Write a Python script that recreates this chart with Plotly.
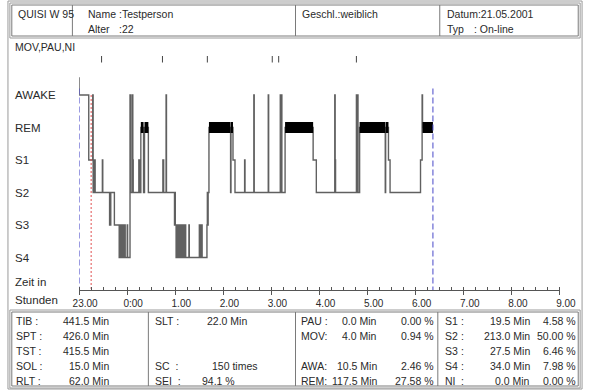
import plotly.graph_objects as go

W, H = 600, 391

# ---------------- data ----------------
stage_names = ["AWAKE", "REM", "S1", "S2", "S3", "S4"]
stage_level = {"MT": 5.55, "AWAKE": 5, "REM": 4, "S1": 3, "S2": 2, "S3": 1, "S4": 0}

# hypnogram transitions: minutes after 23:00 and the stage entered
hyp_min = [0, 0, 12, 17, 17.5, 19, 20, 29, 29.5, 38, 39.5, 44, 50, 51, 51.5, 52.5, 53, 54, 54.5,
           55.5, 56, 57, 57.5, 60, 60.5, 63.5, 64.5, 66.5, 67, 67.5, 74.5, 75.5, 77, 80.4, 81.6, 86.4,
           104.5, 105.5, 108.5, 109, 119, 119.5, 120, 121, 121.5, 122, 123, 123.5, 124.5, 125, 126,
           126.5, 127.5, 128, 129.5, 130, 131, 131.5, 132.5, 133, 137, 137.5, 150, 150.5, 151.5, 152,
           153, 153.5, 159.5, 160, 160.5, 161, 162, 189, 189.5, 192, 194.5, 206.5, 207, 218, 218.5,
           236, 236.5, 251, 251.5, 252.5, 253, 257, 292, 296, 319, 319.5, 320, 346, 346.5, 347.5, 348,
           350, 382, 382.5, 386, 388, 426, 428, 428.5]
hyp_stage = ["MT", "AWAKE", "S1", "AWAKE", "S2", "S1", "S2", "S1", "S2", "S3", "S2", "S3", "S4", "S3", "S4", "S3", "S4", "S3", "S4",
             "S3", "S4", "S3", "S4", "S3", "S4", "AWAKE", "S2", "AWAKE", "S1", "S2", "S1", "S2", "REM", "S2", "REM", "S2",
             "S1", "S2", "AWAKE", "S2", "S3", "S2", "S3", "S4", "S3", "S4", "S3", "S4", "S3", "S4", "S3",
             "S4", "S3", "S4", "S3", "S4", "S3", "S4", "S3", "S4", "S3", "S4", "S3", "S4", "S3", "S4",
             "S3", "S4", "S3", "S2", "S3", "S2", "REM", "S2", "REM", "S1", "S2", "S1", "S2", "AWAKE", "S2",
             "AWAKE", "S2", "AWAKE", "S2", "AWAKE", "S2", "REM", "S1", "S2", "AWAKE", "S1", "S2", "AWAKE", "S2", "AWAKE", "S2",
             "REM", "S2", "REM", "S1", "S2", "S1", "AWAKE", "REM"]
tib_min = 441.5          # lights off 23:00 -> lights on
sol_min = 15.0           # sleep onset latency

mov_min = [28, 104, 160, 241, 249, 346]   # MOV / PAU / NI markers

tick_min = [0, 60, 120, 180, 240, 300, 360, 420, 480, 540, 600]
tick_txt = ["23.00", "0:00", "1.00", "2.00", "3.00", "4.00", "5.00", "6.00", "7.00", "8.00", "9.00"]

header_cells = ["QUISI W 95", "Name", ":Testperson", "Alter", ":22", "Geschl.:weiblich",
                "Datum:21.05.2001", "Typ", ": On-line"]

col1_lbl = ["TIB :", "SPT :", "TST :", "SOL :", "RLT :"]
col1_val = ["441.5 Min", "426.0 Min", "415.5 Min", "15.0 Min", "62.0 Min"]
col2_lbl = ["SLT :", "", "", "SC  :", "SEI  :"]
col2_val = ["22.0 Min", "", "", "150 times", "94.1 %"]
col3_lbl = ["PAU :", "MOV:", "", "AWA:", "REM:"]
col3_val = ["0.0 Min", "4.0 Min", "", "10.5 Min", "117.5 Min"]
col3_pct = ["0.00 %", "0.94 %", "", "2.46 %", "27.58 %"]
col4_lbl = ["S1", "S2", "S3", "S4", "NI"]
col4_val = ["19.5 Min", "213.0 Min", "27.5 Min", "34.0 Min", "0.0 Min"]
col4_pct = ["4.58 %", "50.00 %", "6.46 %", "7.98 %", "0.00 %"]

# ---------------- helpers ----------------
def X(px):
    return px / W

def Y(py):
    return 1 - py / H

FONT = "Liberation Sans, Arial, sans-serif"
TXT = "#2a2a2a"
AX_L, AX_R = 75, 575
Y_BOT, Y_TOP = 290, 52.75   # pixel rows of y = -1 and y = 6.3

fig = go.Figure()

# hypnogram step line
xs = hyp_min + [tib_min]
ys = [stage_level[s] for s in hyp_stage] + [stage_level[hyp_stage[-1]]]
fig.add_trace(go.Scatter(x=xs, y=ys, mode="lines", line=dict(color="#606060", width=1.4, shape="hv"),
                         hoverinfo="skip", showlegend=False))

# REM bands
rx, ry = [], []
for i, s in enumerate(hyp_stage):
    if s == "REM":
        t0 = hyp_min[i]
        t1 = hyp_min[i + 1] if i + 1 < len(hyp_min) else tib_min
        rx += [t0, t1, None]
        ry += [stage_level["REM"], stage_level["REM"], None]
fig.add_trace(go.Scatter(x=rx, y=ry, mode="lines", line=dict(color="#000000", width=11),
                         hoverinfo="skip", showlegend=False))

# lights off / on dashed lines
fig.add_trace(go.Scatter(x=[0, 0, None, tib_min, tib_min], y=[5.2, -1, None, 5.2, -1], mode="lines",
                         line=dict(color="#4848c8", width=1, dash="6px,3px"), hoverinfo="skip", showlegend=False))
# sleep onset dotted line
fig.add_trace(go.Scatter(x=[sol_min, sol_min], y=[5, -1], mode="lines",
                         line=dict(color="#e05050", width=1, dash="2px,2px"), hoverinfo="skip", showlegend=False))

# MOV markers
mx, my = [], []
for t in mov_min:
    mx += [t, t, None]
    my += [6.0, 6.2, None]
fig.add_trace(go.Scatter(x=mx, y=my, mode="lines", line=dict(color="#444", width=1),
                         hoverinfo="skip", showlegend=False))

fig.update_xaxes(range=[0, 600], domain=[X(AX_L), X(AX_R)], showgrid=False, zeroline=False,
                 showline=True, linecolor="#555", linewidth=1,
                 tickvals=tick_min, ticktext=tick_txt, ticks="outside", ticklen=4, tickcolor="#555",
                 minor=dict(dtick=15, ticks="inside", ticklen=3, tickcolor="#555"),
                 tickfont=dict(family=FONT, size=10, color=TXT), ticklabelshift=6, fixedrange=True)
fig.update_yaxes(range=[-1, 6.3], domain=[Y(Y_BOT), Y(Y_TOP)], visible=False, fixedrange=True)

ann = []
def text(px, py, s, size=11, anchor="left"):
    ann.append(dict(x=X(px), y=Y(py), xref="paper", yref="paper", text=s, showarrow=False,
                    xanchor=anchor, yanchor="middle", font=dict(family=FONT, size=size, color=TXT)))

# stage labels
for name in stage_names:
    ann.append(dict(x=X(6), y=stage_level[name], xref="paper", yref="y", text=name, showarrow=False,
                    xanchor="left", yanchor="middle", font=dict(family=FONT, size=11.5, color=TXT)))
text(6, 282, "Zeit in", 11.5)
text(6, 300, "Stunden", 11.5)
text(6, 47, "MOV,PAU,NI", 10.5)

# header
text(9, 14, header_cells[0], 10.5)
text(82, 14, header_cells[1], 10.5)
text(114, 14, header_cells[2], 10.5)
text(82, 29, header_cells[3], 10.5)
text(114, 29, header_cells[4], 10.5)
text(305, 14, header_cells[5], 10.5)
text(455, 14, header_cells[6], 10.5)
text(455, 29, header_cells[7], 10.5)
text(484, 29, header_cells[8], 10.5)

# bottom table
rows = [321, 336, 351, 366, 381]
for i, py in enumerate(rows):
    text(7, py, col1_lbl[i], 10.5)
    text(108, py, col1_val[i], 10.5, "right")
    text(152, py, col2_lbl[i], 10.5)
    if col2_val[i]:
        a = "right" if "Min" in col2_val[i] or "times" in col2_val[i] else "left"
        text(252 if "Min" in col2_val[i] else (263 if "times" in col2_val[i] else 201), py, col2_val[i], 10.5, a)
    text(304, py, col3_lbl[i], 10.5)
    text(387, py, col3_val[i], 10.5, "right")
    text(446, py, col3_pct[i], 10.5, "right")
    text(453, py, col4_lbl[i], 10.5)
    text(470, py, ":", 10.5)
    text(546, py, col4_val[i], 10.5, "right")
    text(594, py, col4_pct[i], 10.5, "right")

shapes = []
def rect(x0, y0, x1, y1, color="#8a8a8a", w=1):
    shapes.append(dict(type="rect", xref="paper", yref="paper", x0=X(x0), x1=X(x1), y0=Y(y1), y1=Y(y0),
                       line=dict(color=color, width=w)))
def vline(x, y0, y1, color="#8a8a8a", w=1):
    shapes.append(dict(type="line", xref="paper", yref="paper", x0=X(x), x1=X(x), y0=Y(y0), y1=Y(y1),
                       line=dict(color=color, width=w)))

# outer frame
rect(1, 1, 598, 389, "#9a9a9a", 1)
# header box (double)
rect(3, 3, 596, 38, "#9a9a9a", 1)
rect(5, 5, 594, 36, "#7a7a7a", 1)
for xv in [68, 300, 450]:
    vline(xv, 5, 36, "#7a7a7a")
# bottom table (double)
rect(3, 310, 596, 388, "#9a9a9a", 1)
rect(5, 312, 594, 386, "#7a7a7a", 1)
for xv in [147, 300, 448]:
    vline(xv, 312, 386, "#7a7a7a")

fig.update_layout(width=W, height=H, autosize=False, margin=dict(l=0, r=0, t=0, b=0), paper_bgcolor="white",
                  plot_bgcolor="white", annotations=ann, shapes=shapes, showlegend=False)

post = ("document.documentElement.style.margin='0';document.documentElement.style.padding='0';"
        "document.body.style.margin='0';document.body.style.padding='0';document.body.style.overflow='hidden';"
        "var gd=document.getElementById('{plot_id}');gd.style.position='absolute';"
        "gd.style.left='0px';gd.style.top='0px';")
fig.write_html("out.html", config={"displayModeBar": False, "responsive": False}, post_script=post)
